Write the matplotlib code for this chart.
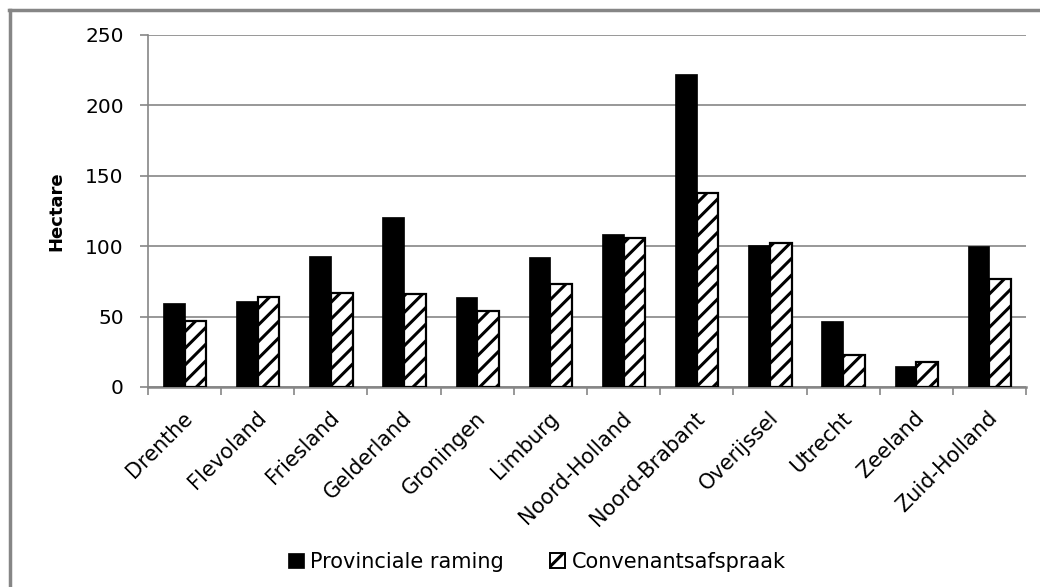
import numpy as np
import matplotlib
matplotlib.use("Agg")
import matplotlib.pyplot as plt
from matplotlib.lines import Line2D
from matplotlib.patches import Patch
from matplotlib.transforms import ScaledTranslation

# Provinces and hectares per province
provinces = ["Drenthe", "Flevoland", "Friesland", "Gelderland", "Groningen",
             "Limburg", "Noord-Holland", "Noord-Brabant", "Overijssel",
             "Utrecht", "Zeeland", "Zuid-Holland"]
provinciale_raming = [60, 61, 93, 121, 64, 92, 109, 222, 101, 47, 15, 100]
convenantsafspraak = [47, 64, 67, 66, 54, 73, 106, 138, 102, 23, 18, 77]
y_ticks = [0, 50, 100, 150, 200, 250]

plt.rcParams["font.family"] = ["DejaVu Sans"]
plt.rcParams["hatch.linewidth"] = 2.2
plt.rcParams["hatch.color"] = "black"

W, H = 1040, 587
fig = plt.figure(figsize=(W / 100, H / 100), dpi=100)
ax = fig.add_axes([148 / W, 1 - 387 / H, (1026 - 148) / W, (387 - 35) / H])

grey = "#868686"
x = np.arange(len(provinces))
w = 0.295

ax.bar(x - w, provinciale_raming, width=w, align="edge", color="black",
       edgecolor="black", linewidth=0.5, zorder=3)
ax.bar(x, convenantsafspraak, width=w, align="edge", color="white",
       edgecolor="black", linewidth=1.6, hatch="//", zorder=3)

ax.set_xlim(-0.5, len(provinces) - 0.5)
ax.set_ylim(0, 250)
ax.set_yticks(y_ticks)
ax.yaxis.grid(True, color=grey, linewidth=1.2, zorder=0)
ax.set_axisbelow(True)

for s in ["top", "right"]:
    ax.spines[s].set_visible(False)
ax.spines["left"].set_color(grey)
ax.spines["left"].set_linewidth(1.2)
ax.spines["bottom"].set_color(grey)
ax.spines["bottom"].set_linewidth(1.8)

ax.tick_params(axis="y", length=5.5, width=1.2, color=grey, pad=12,
               labelsize=14.5, labelcolor="black")

# category boundary ticks, labels at category centres
ax.set_xticks(np.arange(len(provinces) + 1) - 0.5, minor=True)
ax.tick_params(axis="x", which="minor", length=6, width=1.2, color=grey)
ax.set_xticks(x)
ax.set_xticklabels(provinces, rotation=45, ha="right", va="top",
                   rotation_mode="anchor", fontsize=15)
ax.tick_params(axis="x", which="major", length=0, pad=15)
shift = ScaledTranslation(-2 / 100, 0, fig.dpi_scale_trans)
for lbl in ax.get_xticklabels():
    lbl.set_transform(lbl.get_transform() + shift)

ax.set_ylabel("Hectare", fontsize=13, fontweight="bold", labelpad=14)

# chart area border (left and top edges)
fig.add_artist(Line2D([10 / W, 10 / W], [0, 1 - 10 / H], color=grey,
                      linewidth=2.5, transform=fig.transFigure))
fig.add_artist(Line2D([9 / W, 1], [1 - 10 / H, 1 - 10 / H], color=grey,
                      linewidth=2.5, transform=fig.transFigure))

handles = [Patch(facecolor="black", edgecolor="black", linewidth=0.5),
           Patch(facecolor="white", edgecolor="black", linewidth=1.4, hatch="//")]
fig.legend(handles, ["Provinciale raming", "Convenantsafspraak"],
           loc="center", bbox_to_anchor=(537 / W, 1 - 562 / H), ncol=2,
           frameon=False, fontsize=15, handlelength=0.75, handleheight=0.75,
           handletextpad=0.3, columnspacing=2.2)

fig.savefig("out.png", dpi=100)
